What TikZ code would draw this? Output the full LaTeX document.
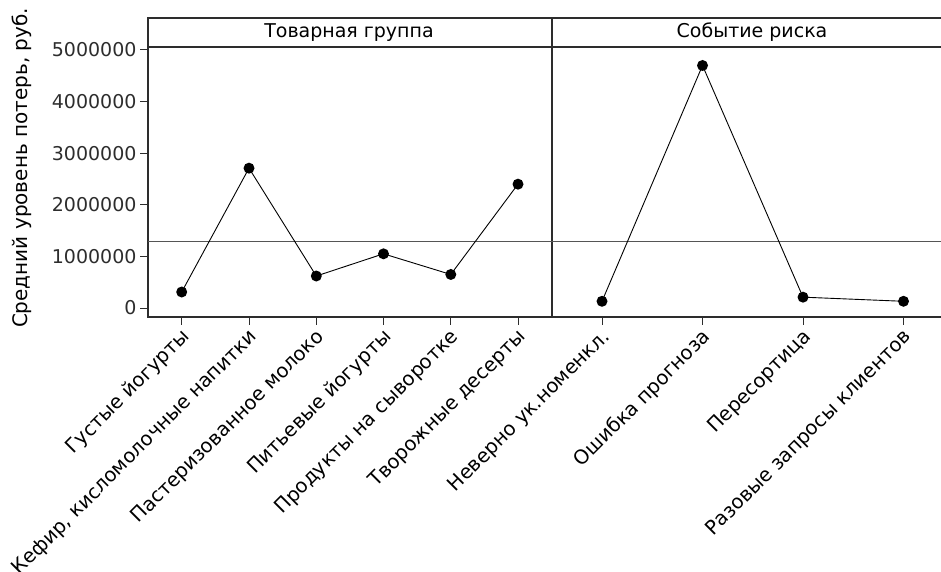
\documentclass[tikz,border=0pt]{standalone}
\usepackage{fontspec}
\setmainfont{DejaVu Sans}
\usetikzlibrary{positioning}
\definecolor{framegray}{RGB}{45,45,45}
\definecolor{meangray}{RGB}{85,85,85}

\begin{document}
\begin{tikzpicture}[
    x=1pt, y=-1pt,
    every node/.style={font=\fontsize{19}{22}\selectfont},
    dot/.style={circle, fill=black, inner sep=0pt, minimum size=11pt},
    link/.style={black, line width=0.9pt},
    axis/.style={framegray, line width=1.4pt},
    catlabel/.style={rotate=45, anchor=east, inner sep=0pt, font=\fontsize{19.6}{22}\selectfont},
    ylabel/.style={anchor=east, inner sep=0pt}
]
\useasboundingbox (0,0) rectangle (941,572);

% panels
\draw[axis] (941,18) -- (148,18) -- (148,317) -- (941,317);
\draw[axis] (148,47) -- (941,47);
\draw[axis] (552,18) -- (552,317);
\node (hgroup) at (349,32.5) {Товарная группа};
\node (hrisk) at (752,32.5) {Событие риска};

% y axis
\foreach \v/\t in {0/0,1/1000000,2/2000000,3/3000000,4/4000000,5/5000000}
  \draw[axis, line width=1pt] (140,{308-51.6*\v}) -- (148,{308-51.6*\v})
    node[ylabel, at start, xshift=-3pt] {\t};
\node[rotate=90, font=\fontsize{20}{22}\selectfont] (yname) at (22,168) {Средний уровень потерь, руб.};

% mean line
\draw[meangray, line width=1pt] (148,{308-51.6*1.29}) -- (941,{308-51.6*1.29});

% x ticks
\foreach \x in {181.7,249,316.3,383.5,450.8,518,602,702.5,803,903.5}
  \draw[axis, line width=1pt] (\x,317) -- (\x,325);

% Товарная группа
\node[dot] (g1) at (181.7,{308-51.6*0.31}) {};
\node[dot] (g2) at (249,{308-51.6*2.71}) {};
\node[dot] (g3) at (316.3,{308-51.6*0.62}) {};
\node[dot] (g4) at (383.5,{308-51.6*1.05}) {};
\node[dot] (g5) at (450.8,{308-51.6*0.65}) {};
\node[dot] (g6) at (518,{308-51.6*2.40}) {};
\draw[link] (g1.center) -- (g2.center) -- (g3.center) -- (g4.center) -- (g5.center) -- (g6.center);

% Событие риска
\node[dot] (r1) at (602,{308-51.6*0.13}) {};
\node[dot] (r2) at (702.5,{308-51.6*4.70}) {};
\node[dot] (r3) at (803,{308-51.6*0.21}) {};
\node[dot] (r4) at (903.5,{308-51.6*0.13}) {};
\draw[link] (r1.center) -- (r2.center) -- (r3.center) -- (r4.center);

% category labels
\node[catlabel] (l1) at (186.7,334) {Густые йогурты};
\node[catlabel] (l2) at (254,334) {Кефир, кисломолочные напитки};
\node[catlabel] (l3) at (321.3,334) {Пастеризованное молоко};
\node[catlabel] (l4) at (388.5,334) {Питьевые йогурты};
\node[catlabel] (l5) at (455.8,334) {Продукты на сыворотке};
\node[catlabel] (l6) at (523,334) {Творожные десерты};
\node[catlabel] (l7) at (607,334) {Неверно ук.номенкл.};
\node[catlabel] (l8) at (707.5,334) {Ошибка прогноза};
\node[catlabel] (l9) at (808,334) {Пересортица};
\node[catlabel] (l10) at (908.5,334) {Разовые запросы клиентов};
\end{tikzpicture}
\end{document}
